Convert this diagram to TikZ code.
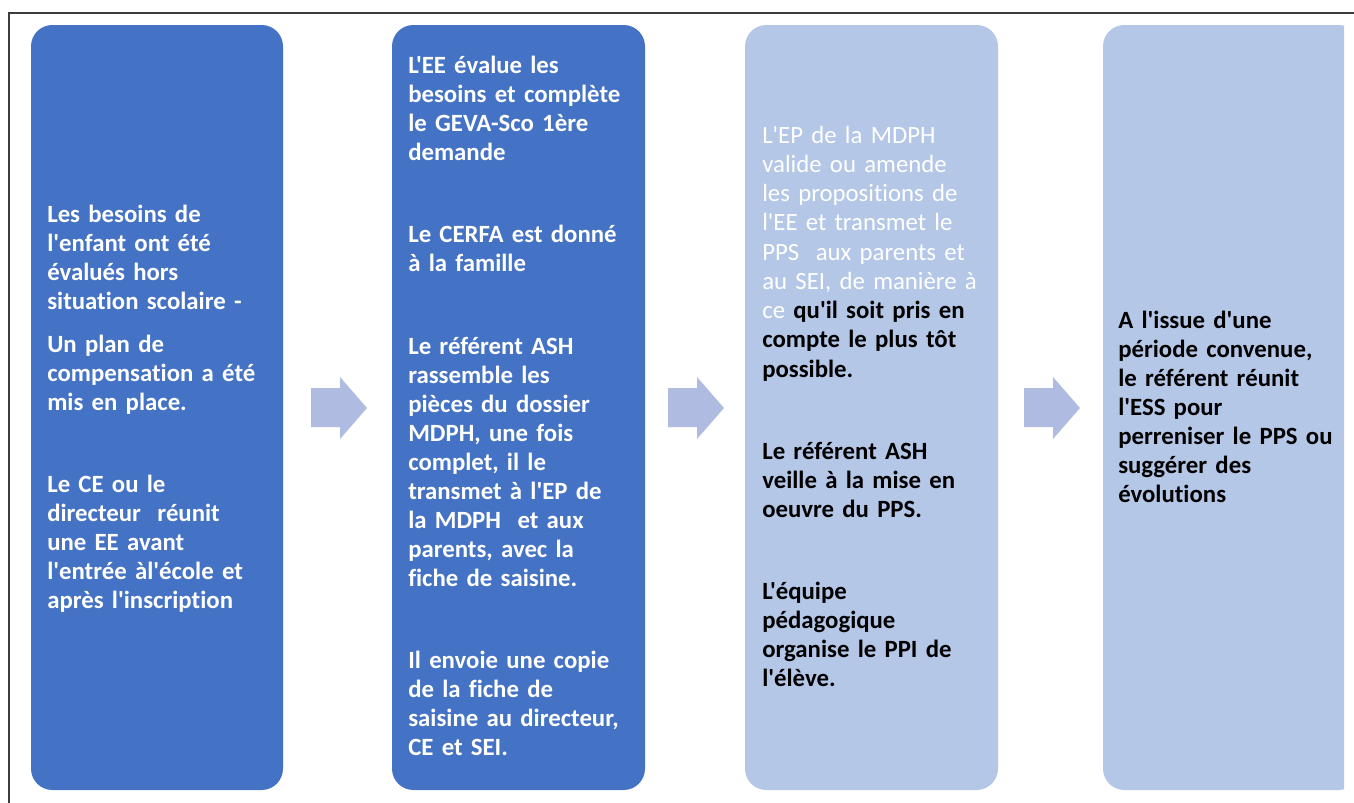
\documentclass[tikz,border=0pt]{standalone}
\usepackage{fontspec}
\setmainfont{Carlito}[Ligatures={TeXOff,NoCommon}]
\definecolor{darkbox}{HTML}{4472C4}
\definecolor{lightbox}{HTML}{B4C7E7}
\definecolor{arrowfill}{RGB}{175,187,225}
\definecolor{framegray}{HTML}{3C3C3C}
\begin{document}
\begin{tikzpicture}[x=0.75pt,y=-0.75pt,
  stepbox/.style={rounded corners=16pt},
  txt/.style={anchor=base west,inner sep=0pt,align=left,text width=330pt,
    font=\fontsize{18.6}{21.8}\selectfont\bfseries},
  wtxt/.style={txt,text=white},
  btxt/.style={txt,text=black},
]
\useasboundingbox (0,0) rectangle (1354,803);
% frame
\draw[framegray,line width=1.2pt] (9,810) -- (9,13) -- (1360,13);
% boxes
\fill[darkbox,stepbox] (31,25) rectangle (283,790);
\fill[darkbox,stepbox] (392,25) rectangle (645,790);
\fill[lightbox,stepbox] (745,25) rectangle (998,790);
\begin{scope}
\clip (1000,0) rectangle (1344,803);
\fill[lightbox,stepbox] (1103,25) rectangle (1360,790);
\end{scope}
% arrows
\foreach \cx in {339,696,1052}{
  \fill[arrowfill] (\cx-28,388) -- (\cx+1,388) -- (\cx+1,377) -- (\cx+28,408)
     -- (\cx+1,439) -- (\cx+1,427) -- (\cx-28,427) -- cycle;
}
% box 1 text
\node[wtxt] (t11) at (47,222) {Les besoins de\\l'enfant ont été\\évalués hors\\situation scolaire -};
\node[wtxt] (t12) at (47,352) {Un plan de\\compensation a été\\mis en place.};
\node[wtxt] (t13) at (47,492) {Le CE ou le\\directeur\ \ réunit\\une EE avant\\l'entrée àl'école et\\après l'inscription};
% box 2 text
\node[wtxt] (t21) at (408,73) {L'EE évalue les\\besoins et complète\\le GEVA-Sco 1ère\\demande};
\node[wtxt] (t22) at (408,242) {Le CERFA est donné\\à la famille};
\node[wtxt] (t23) at (408,354) {Le référent ASH\\rassemble les\\pièces du dossier\\MDPH, une fois\\complet, il le\\transmet à l'EP de\\la MDPH\ \ et aux\\parents, avec la\\fiche de saisine.};
\node[wtxt] (t24) at (408,668) {Il envoie une copie\\de la fiche de\\saisine au directeur,\\CE et SEI.};
% box 3 text
\node[txt,text=white,font=\fontsize{18.6}{21.95}\selectfont\mdseries] (t31) at (762,143)
  {L'EP de la MDPH\\valide ou amende\\les propositions de\\l'EE et transmet le\\PPS\ \ aux parents et\\au SEI, de manière à\\ce {\bfseries\color{black}qu'il soit pris en}\\{\bfseries\color{black}compte le plus tôt}\\{\bfseries\color{black}possible.}};
\node[btxt] (t32) at (762,459) {Le référent ASH\\veille à la mise en\\oeuvre du PPS.};
\node[btxt] (t33) at (762,599) {L'équipe\\pédagogique\\organise le PPI de\\l'élève.};
% box 4 text
\node[btxt] (t41) at (1118,328) {A l'issue d'une\\période convenue,\\le référent réunit\\l'ESS pour\\perreniser le PPS ou\\suggérer des\\évolutions};
\end{tikzpicture}
\end{document}
